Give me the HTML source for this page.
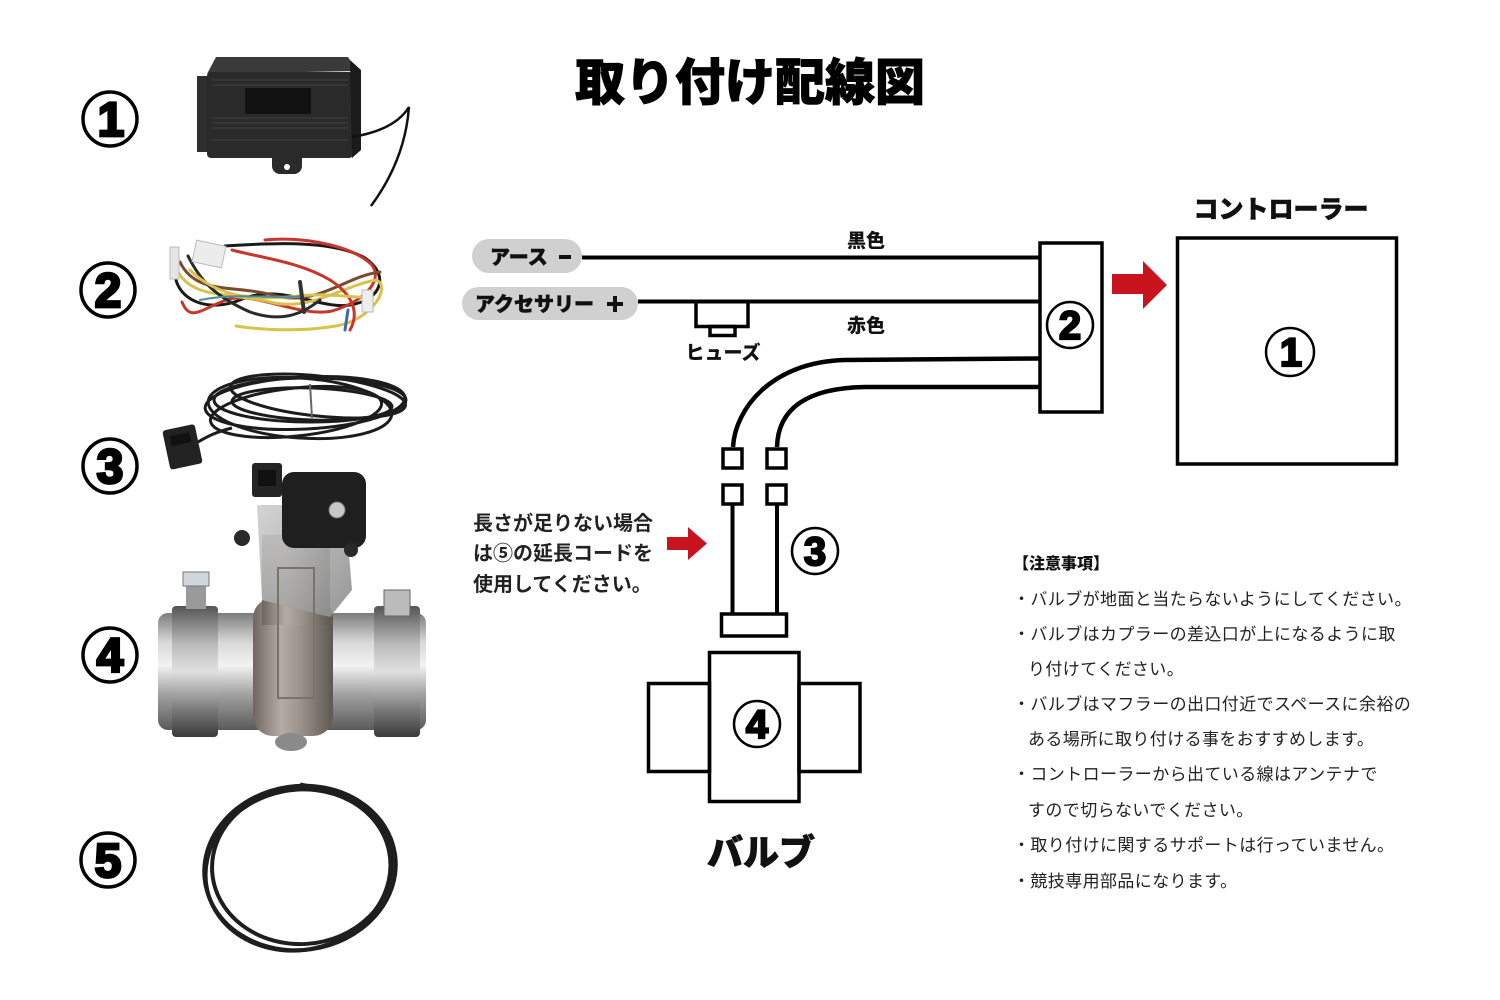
<!DOCTYPE html>
<html><head><meta charset="utf-8">
<style>
html,body{margin:0;padding:0;background:#fff;}
svg{display:block;}
.jp{font-family:"Liberation Sans","Noto Sans CJK JP",sans-serif;}
.dg{font-family:"Liberation Sans",sans-serif;font-weight:bold;}
</style></head><body>
<svg width="1500" height="1000" viewBox="0 0 1500 1000" xmlns="http://www.w3.org/2000/svg">
<defs>
  <linearGradient id="pipe" x1="0" y1="0" x2="0" y2="1">
    <stop offset="0" stop-color="#7c7c7c"/>
    <stop offset="0.25" stop-color="#d8d8d8"/>
    <stop offset="0.45" stop-color="#f2f2f2"/>
    <stop offset="0.7" stop-color="#a0a0a0"/>
    <stop offset="1" stop-color="#5a5a5a"/>
  </linearGradient>
  <linearGradient id="clamp" x1="0" y1="0" x2="0" y2="1">
    <stop offset="0" stop-color="#555"/>
    <stop offset="0.3" stop-color="#bdbdbd"/>
    <stop offset="0.5" stop-color="#e0e0e0"/>
    <stop offset="0.8" stop-color="#777"/>
    <stop offset="1" stop-color="#3a3a3a"/>
  </linearGradient>
  <linearGradient id="body" x1="0" y1="0" x2="1" y2="0">
    <stop offset="0" stop-color="#6e6660"/>
    <stop offset="0.35" stop-color="#b4aca4"/>
    <stop offset="0.6" stop-color="#9a928a"/>
    <stop offset="1" stop-color="#5e5852"/>
  </linearGradient>
  <linearGradient id="brk" x1="0" y1="0" x2="1" y2="1">
    <stop offset="0" stop-color="#d0d0d0"/>
    <stop offset="1" stop-color="#8a8a8a"/>
  </linearGradient>
</defs>
<rect width="1500" height="1000" fill="#fff"/>

<!-- Title -->
<text class="jp" x="750" y="100" font-size="50" font-weight="900" text-anchor="middle" fill="#000" stroke="#000" stroke-width="1">取り付け配線図</text>

<!-- Left circled numbers -->
<g fill="none" stroke="#000" stroke-width="3.5">
  <circle cx="110" cy="119" r="27"/>
  <circle cx="108" cy="290" r="27"/>
  <circle cx="110" cy="466" r="27"/>
  <circle cx="110" cy="655" r="27"/>
  <circle cx="108" cy="860" r="27"/>
</g>
<g class="dg" font-size="48" text-anchor="middle" fill="#000" stroke="#000" stroke-width="2.8">
  <text x="111" y="136">1</text>
  <text x="108" y="307">2</text>
  <text x="110" y="483">3</text>
  <text x="110" y="672">4</text>
  <text x="108" y="877">5</text>
</g>

<!-- Photo 1: controller box -->
<g>
  <rect x="197" y="76" width="14" height="76" fill="#2e2e2e"/>
  <polygon points="216,57 348,57 357,71 207,74" fill="#3a3a3a"/>
  <rect x="207" y="72" width="146" height="86" rx="4" fill="#2a2a2a"/>
  <polygon points="350,60 361,70 361,150 352,158" fill="#1b1b1b"/>
  <g stroke="#404040" stroke-width="1">
    <line x1="212" y1="80" x2="348" y2="80"/>
    <line x1="212" y1="85" x2="348" y2="85"/>
    <line x1="212" y1="118" x2="348" y2="118"/>
    <line x1="212" y1="123" x2="348" y2="123"/>
    <line x1="212" y1="128" x2="348" y2="128"/>
    <line x1="212" y1="140" x2="348" y2="140"/>
  </g>
  <rect x="245" y="88" width="66" height="26" fill="#121212"/>
  <path d="M272,156 h30 v10 a8,8 0 0 1 -8,8 h-14 a8,8 0 0 1 -8,-8z" fill="#2a2a2a"/>
  <circle cx="287" cy="167" r="3" fill="#fff"/>
  <path d="M352,137 Q395,130 409,107 Q405,160 371,206" stroke="#111" stroke-width="2.5" fill="none"/>
</g>

<!-- Photo 2: wire harness -->
<g fill="none" stroke-width="3" stroke-linecap="round">
  <path d="M225,246 C260,244 330,238 365,258 C390,275 382,300 350,305 C320,310 280,282 240,300 C210,312 182,302 176,280" stroke="#1a1a1a"/>
  <path d="M265,240 C300,236 352,245 372,265 C384,282 362,302 332,311 C300,318 252,290 226,300 C200,310 190,322 182,302" stroke="#c8352a"/>
  <path d="M176,268 C190,300 230,292 270,302 C310,312 342,286 376,280 C392,286 372,320 336,326 C300,332 262,330 236,326" stroke="#d9c24c"/>
  <path d="M180,262 C196,296 236,284 276,296 C318,306 346,276 380,272" stroke="#7a4a2e"/>
  <path d="M232,250 C262,258 300,262 330,280 C352,294 360,312 350,330" stroke="#c8352a"/>
  <path d="M188,256 C200,280 214,296 250,312 C280,322 300,316 320,300" stroke="#2a2a2a"/>
  <path d="M190,270 C220,300 260,300 300,296 C330,292 360,300 372,296" stroke="#d9c24c"/>
  <path d="M200,300 C240,292 280,300 300,296" stroke="#4a8a9a" stroke-width="2"/>
  <line x1="300" y1="282" x2="304" y2="312" stroke="#333" stroke-width="4"/>
  <rect x="194" y="243" width="30" height="22" fill="#ececec" stroke="#bbb" stroke-width="1" transform="rotate(12 209 254)"/>
  <rect x="170" y="247" width="9" height="32" fill="#e5e5e5" stroke="#bbb" stroke-width="1"/>
  <rect x="362" y="290" width="11" height="22" fill="#eee" stroke="#bbb" stroke-width="1"/>
  <line x1="348" y1="310" x2="345" y2="330" stroke="#3a6ab0" stroke-width="3"/>
</g>

<!-- Photo 3: cable coil -->
<g fill="none" stroke="#1c1c1c" stroke-width="3">
  <ellipse cx="305" cy="403" rx="100" ry="26" transform="rotate(-3 305 403)"/>
  <ellipse cx="300" cy="408" rx="92" ry="30" transform="rotate(4 300 408)"/>
  <ellipse cx="310" cy="400" rx="96" ry="22"/>
  <ellipse cx="296" cy="412" rx="86" ry="24" transform="rotate(-6 296 412)"/>
  <ellipse cx="318" cy="396" rx="88" ry="20" transform="rotate(6 318 396)"/>
  <ellipse cx="312" cy="404" rx="80" ry="16" transform="rotate(2 312 404)"/>
  <path d="M232,428 C215,432 205,438 198,442"/>
  <line x1="310" y1="384" x2="312" y2="418" stroke="#666" stroke-width="2"/>
</g>
<rect x="166" y="427" width="33" height="40" rx="3" fill="#222" transform="rotate(-12 182 447)"/>
<rect x="172" y="434" width="20" height="10" fill="#111" transform="rotate(-12 182 447)"/>

<!-- Photo 4: valve -->
<g>
  <rect x="158" y="613" width="268" height="117" rx="10" fill="url(#pipe)"/>
  <rect x="172" y="606" width="46" height="131" rx="4" fill="url(#clamp)"/>
  <rect x="374" y="606" width="46" height="131" rx="4" fill="url(#clamp)"/>
  <rect x="253" y="598" width="80" height="138" rx="20" fill="url(#body)"/>
  <rect x="262" y="535" width="68" height="90" fill="url(#body)"/>
  <polygon points="257,505 345,505 352,590 330,617 262,600" fill="url(#brk)" opacity="0.9"/>
  <rect x="282" y="472" width="84" height="76" rx="12" fill="#1f1f1f"/>
  <rect x="252" y="463" width="30" height="34" rx="3" fill="#242424"/>
  <rect x="258" y="470" width="18" height="16" fill="#111"/>
  <circle cx="337" cy="510" r="8" fill="#c8c8c8" stroke="#777"/>
  <circle cx="242" cy="538" r="8" fill="#2a2a2a"/>
  <circle cx="351" cy="550" r="7" fill="#2a2a2a"/>
  <rect x="186" y="575" width="20" height="34" fill="#9a9a9a"/>
  <rect x="183" y="572" width="26" height="14" fill="#cfd6dc" stroke="#777"/>
  <rect x="384" y="590" width="26" height="26" fill="#bbb" stroke="#666"/>
  <ellipse cx="291" cy="742" rx="16" ry="9" fill="#8a8a8a"/>
  <rect x="278" y="568" width="36" height="130" fill="none" stroke="#7a736c" stroke-width="2"/>
</g>

<!-- Photo 5: cable ring -->
<g fill="none" stroke="#1e1e1e" stroke-width="4">
  <ellipse cx="300" cy="868" rx="96" ry="82" transform="rotate(-8 300 868)"/>
  <ellipse cx="302" cy="866" rx="90" ry="78" transform="rotate(-4 302 866)"/>
  <ellipse cx="298" cy="870" rx="93" ry="80" transform="rotate(-12 298 870)"/>
  <path d="M300,785 L335,792" stroke-width="5"/>
</g>

<!-- Wiring diagram -->
<rect x="472" y="239" width="110" height="34" rx="17" fill="#d0d0d0"/>
<text class="jp" x="490" y="264" font-size="20" font-weight="900" fill="#111" stroke="#111" stroke-width="0.5">アース</text>
<rect x="559" y="255" width="12" height="4" fill="#111"/>
<rect x="462" y="287" width="176" height="33" rx="16.5" fill="#d0d0d0"/>
<text class="jp" x="475" y="311" font-size="20" font-weight="900" fill="#111" stroke="#111" stroke-width="0.5">アクセサリー</text>
<rect x="607" y="302" width="16" height="4" fill="#111"/>
<rect x="613" y="296" width="4" height="16" fill="#111"/>

<g stroke="#000" stroke-width="4" fill="none">
  <line x1="582" y1="257.5" x2="1040" y2="257.5"/>
  <line x1="638" y1="301.5" x2="1040" y2="301.5"/>
  <path d="M696,302 V326.5 H748 V302" stroke-width="3.5"/>
  <rect x="710" y="326.5" width="25" height="9" stroke-width="3.5"/>
  <path d="M1040,358.5 L845,360 C770,362 735,410 733,447" stroke-width="4.5"/>
  <path d="M1040,387 L865,387 C805,388 778,410 777,447" stroke-width="4.5"/>
  <rect x="1040" y="243" width="62" height="169" stroke-width="3.5"/>
  <rect x="723" y="449" width="19" height="19" stroke-width="3.5"/>
  <rect x="767" y="449" width="19" height="19" stroke-width="3.5"/>
  <rect x="723" y="485" width="19" height="19" stroke-width="3.5"/>
  <rect x="767" y="485" width="19" height="19" stroke-width="3.5"/>
  <line x1="732.5" y1="504" x2="732.5" y2="614"/>
  <line x1="777" y1="504" x2="777" y2="614"/>
  <rect x="721.5" y="614" width="65" height="22" stroke-width="3.5"/>
  <rect x="648.5" y="683.5" width="61" height="88" stroke-width="3.5"/>
  <rect x="799" y="683.5" width="61" height="88" stroke-width="3.5"/>
  <rect x="709.5" y="652.5" width="89.5" height="149" stroke-width="3.5"/>
  <rect x="1177.5" y="238" width="219" height="226" stroke-width="3.5"/>
  <circle cx="1070" cy="325" r="23" stroke-width="2.5"/>
  <circle cx="815" cy="551" r="23" stroke-width="2.5"/>
  <circle cx="757" cy="724" r="23" stroke-width="2.5"/>
  <circle cx="1290" cy="352" r="24" stroke-width="2.5"/>
</g>
<g class="dg" font-size="40" text-anchor="middle" fill="#000" stroke="#000" stroke-width="2.2">
  <text x="1070" y="339">2</text>
  <text x="815" y="565">3</text>
  <text x="757" y="738">4</text>
  <text x="1291" y="366">1</text>
</g>

<text class="jp" x="866" y="247" font-size="19" font-weight="900" text-anchor="middle" fill="#111">黒色</text>
<text class="jp" x="866" y="332" font-size="19" font-weight="900" text-anchor="middle" fill="#111">赤色</text>
<text class="jp" x="723" y="359" font-size="19" font-weight="900" text-anchor="middle" fill="#111">ヒューズ</text>
<text class="jp" x="1281" y="218" font-size="25" font-weight="900" text-anchor="middle" fill="#111" stroke="#111" stroke-width="0.6">コントローラー</text>
<text class="jp" x="761" y="865" font-size="36" font-weight="900" text-anchor="middle" fill="#111" stroke="#111" stroke-width="0.8">バルブ</text>

<!-- red arrows -->
<polygon points="1112,274 1143,274 1143,261 1167,285 1143,309 1143,294 1112,294" fill="#c8141e"/>
<polygon points="667,537 688,537 688,527 707,543.5 688,560 688,550 667,550" fill="#c8141e"/>

<!-- left note -->
<g class="jp" font-size="20" font-weight="bold" fill="#222">
  <text x="473" y="530">長さが足りない場合</text>
  <text x="473" y="560">は⑤の延長コードを</text>
  <text x="473" y="591">使用してください。</text>
</g>

<!-- notes -->
<text class="jp" x="1013" y="569" font-size="16" font-weight="900" fill="#111">【注意事項】</text>
<g class="jp" font-size="17" fill="#222" letter-spacing="0.4">
  <text x="1013" y="605">・バルブが地面と当たらないようにしてください。</text>
  <text x="1013" y="640">・バルブはカプラーの差込口が上になるように取</text>
  <text x="1028" y="675">り付けてください。</text>
  <text x="1013" y="710">・バルブはマフラーの出口付近でスペースに余裕の</text>
  <text x="1028" y="745">ある場所に取り付ける事をおすすめします。</text>
  <text x="1013" y="780">・コントローラーから出ている線はアンテナで</text>
  <text x="1028" y="816">すので切らないでください。</text>
  <text x="1013" y="851">・取り付けに関するサポートは行っていません。</text>
  <text x="1013" y="887">・競技専用部品になります。</text>
</g>
</svg>
</body></html>
